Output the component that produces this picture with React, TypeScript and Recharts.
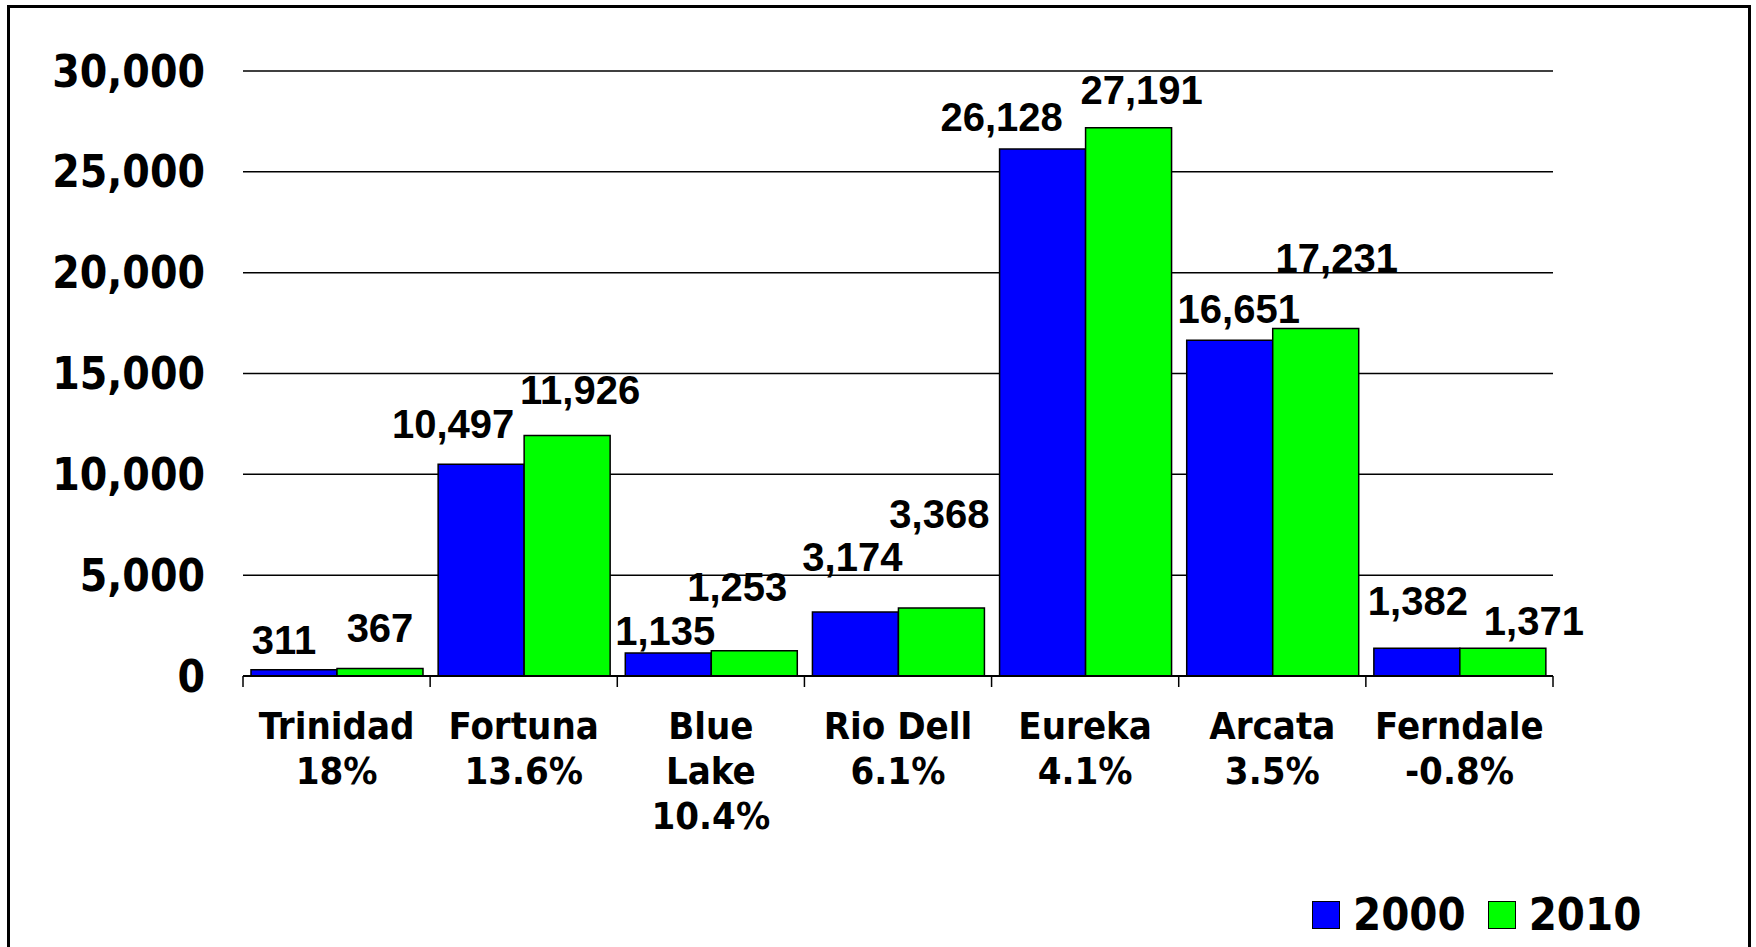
import { BarChart, Bar, XAxis, YAxis, CartesianGrid, LabelList } from "recharts";

const cities = ["Trinidad", "Fortuna", "Blue Lake", "Rio Dell", "Eureka", "Arcata", "Ferndale"];
const growth = ["18%", "13.6%", "10.4%", "6.1%", "4.1%", "3.5%", "-0.8%"];
const pop2000 = [311, 10497, 1135, 3174, 26128, 16651, 1382];
const pop2010 = [367, 11926, 1253, 3368, 27191, 17231, 1371];
const yTicks = [0, 5000, 10000, 15000, 20000, 25000, 30000];

// hand-placed value labels (offset from bar top centre), like the original
const off2000 = [
  [-10, 30], [-28, 40], [-3, 22], [-3, 55], [-41, 32], [9, 31], [1, 47],
];
const off2010 = [
  [0, 41], [13, 45], [-17, 64], [-2, 94], [13, 38], [21, 71], [31, 27],
];

const W = 1756;
const H = 947;
const PLOT_LEFT = 243;
const PLOT_RIGHT = 1553;
const BAND = (PLOT_RIGHT - PLOT_LEFT) / cities.length;

const BLUE = "#0000ff";
const GREEN = "#00ff00";
const TAHOMA = "'DejaVu Sans Condensed', 'DejaVu Sans', sans-serif";
const ARIAL = "'Liberation Sans', Arial, sans-serif";

const rows = cities.map((c, i) => ({ city: c, y2000: pop2000[i], y2010: pop2010[i] }));

const fmt = (v: number) => v.toLocaleString("en-US");

function labelLines(i: number) {
  const name = cities[i] === "Blue Lake" ? ["Blue", "Lake"] : [cities[i]];
  return [...name, growth[i]];
}

function CategoryTick(props: any) {
  const { x, y, index } = props;
  const lines = labelLines(index);
  const last = index === cities.length - 1;
  return (
    <g>
      <line x1={x - BAND / 2} x2={x - BAND / 2} y1={y} y2={y + 11} stroke="#000" strokeWidth={1.5} />
      {last && <line x1={x + BAND / 2} x2={x + BAND / 2} y1={y} y2={y + 11} stroke="#000" strokeWidth={1.5} />}
      {lines.map((l, k) => (
        <text
          key={k}
          x={x}
          y={y + 50 + k * 45}
          textAnchor="middle"
          dominantBaseline="central"
          fontFamily={TAHOMA}
          fontStretch="condensed"
          fontWeight="bold"
          fontSize={38}
          fill="#000"
        >
          {l}
        </text>
      ))}
    </g>
  );
}

function ValueTick(props: any) {
  const { x, y, payload } = props;
  return (
    <text
      x={x}
      y={y}
      textAnchor="end"
      dominantBaseline="central"
      fontFamily={TAHOMA}
      fontStretch="condensed"
      fontWeight="bold"
      fontSize={44}
      fill="#000"
    >
      {fmt(payload.value)}
    </text>
  );
}

function makeLabel(offsets: number[][]) {
  return (props: any) => {
    const { x, y, width, value, index } = props;
    const [dx, rise] = offsets[index];
    return (
      <text
        x={x + width / 2 + dx}
        y={y - rise}
        textAnchor="middle"
        dominantBaseline="central"
        fontFamily={ARIAL}
        fontWeight="bold"
        fontSize={40}
        fill="#000"
      >
        {fmt(value)}
      </text>
    );
  };
}

function LegendItem({ color, text }: { color: string; text: string }) {
  return (
    <div style={{ display: "flex", alignItems: "center", marginRight: 22 }}>
      <div style={{ width: 26, height: 26, background: color, border: "1.5px solid #000" }} />
      <span
        style={{
          marginLeft: 13,
          fontFamily: TAHOMA,
          fontStretch: "condensed",
          fontWeight: "bold",
          fontSize: 45,
          lineHeight: "45px",
        }}
      >
        {text}
      </span>
    </div>
  );
}

export default function App() {
  return (
    <div style={{ position: "absolute", left: 0, top: 0, width: W, height: H, overflow: "hidden", background: "#fff" }}>
      <div
        style={{
          position: "absolute",
          left: 7,
          top: 5,
          width: 1744,
          height: 980,
          border: "3px solid #000",
          boxSizing: "border-box",
        }}
      />
      <div style={{ position: "absolute", left: 0, top: 0 }}>
        <BarChart
          width={W}
          height={H}
          data={rows}
          margin={{ top: 71, right: W - PLOT_RIGHT, left: 0, bottom: 0 }}
          barCategoryGap={8}
          barGap={0}
        >
          <CartesianGrid vertical={false} stroke="#000" strokeWidth={1.5} />
          <XAxis
            dataKey="city"
            height={271}
            tickLine={false}
            tickSize={0}
            tickMargin={0}
            axisLine={{ stroke: "#000", strokeWidth: 2 }}
            tick={<CategoryTick />}
            interval={0}
          />
          <YAxis
            width={PLOT_LEFT}
            domain={[0, 30000]}
            ticks={yTicks}
            axisLine={false}
            tickLine={false}
            tickSize={0}
            tickMargin={38}
            tick={<ValueTick />}
          />
          <Bar dataKey="y2000" fill={BLUE} stroke="#000" strokeWidth={1.5} isAnimationActive={false}>
            <LabelList dataKey="y2000" content={makeLabel(off2000)} />
          </Bar>
          <Bar dataKey="y2010" fill={GREEN} stroke="#000" strokeWidth={1.5} isAnimationActive={false}>
            <LabelList dataKey="y2010" content={makeLabel(off2010)} />
          </Bar>
        </BarChart>
      </div>
      <div style={{ position: "absolute", left: 1312, top: 892, display: "flex" }}>
        <LegendItem color={BLUE} text="2000" />
        <LegendItem color={GREEN} text="2010" />
      </div>
    </div>
  );
}
